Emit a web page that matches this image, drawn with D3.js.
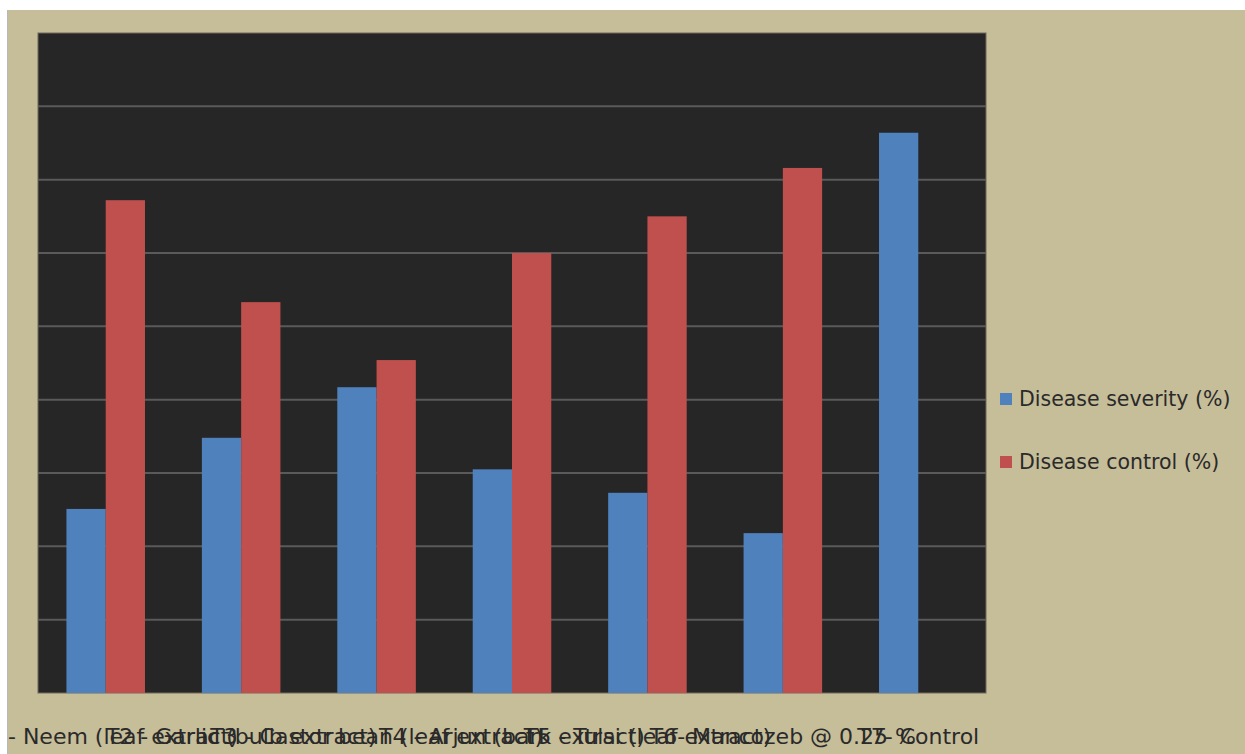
<!DOCTYPE html>
<html>
  <head>
    <script src="https://cdn.jsdelivr.net/npm/d3@7"></script>
    <style>
      body { margin: 0; background: #fff; }
      text { font-family: "DejaVu Sans", sans-serif; }
    </style>
  </head>
  <body>
    <script>
      // treatments and the two series (axis 0-90)
      var categories = [
        "T1 - Neem (leaf extract)",
        "T2 - Garlic (bulb extract)",
        "T3 - Castor bean (leaf extract)",
        "T4 - Arjun (bark extract)",
        "T5 - Tulsi (leaf extract)",
        "T6- Mancozeb @ 0.25 %",
        "T7- Control"
      ];
      var severity = [25.1, 34.8, 41.7, 30.5, 27.3, 21.8, 76.4];
      var control = [67.2, 53.3, 45.4, 60.0, 65.0, 71.6, 0];
      var seriesNames = ["Disease severity (%)", "Disease control (%)"];
      var colors = ["#4f81bd", "#c0504d"];
      var yTicks = d3.range(0, 91, 10);

      var W = 1245, H = 754;
      var plot = { left: 38, top: 33, right: 986, bottom: 693 };

      var svg = d3.select("body").append("svg")
        .attr("width", W)
        .attr("height", H);

      // page frame
      svg.append("rect").attr("x", 7).attr("y", 10).attr("width", 1).attr("height", H - 10).attr("fill", "#b8b8bc");
      svg.append("rect").attr("x", 8).attr("y", 10).attr("width", W - 8).attr("height", H - 10).attr("fill", "#c6bd99");

      svg.append("defs").append("clipPath").attr("id", "pageclip")
        .append("rect").attr("x", 8).attr("y", 10).attr("width", W - 8).attr("height", H - 10);

      // plot area
      svg.append("rect")
        .attr("x", plot.left).attr("y", plot.top)
        .attr("width", plot.right - plot.left).attr("height", plot.bottom - plot.top)
        .attr("fill", "#262626")
        .attr("stroke", "#6e6a5c").attr("stroke-width", 1);

      var x0 = d3.scaleBand()
        .domain(categories)
        .range([plot.left, plot.right])
        .paddingInner(0.42).paddingOuter(0.21);
      var x1 = d3.scaleBand()
        .domain([0, 1])
        .range([0, x0.bandwidth()]);
      var y = d3.scaleLinear()
        .domain([0, 90])
        .range([plot.bottom, plot.top]);

      // gridlines
      svg.append("g").selectAll("line")
        .data(yTicks.slice(1, -1))
        .enter().append("line")
        .attr("x1", plot.left).attr("x2", plot.right)
        .attr("y1", d => y(d)).attr("y2", d => y(d))
        .attr("stroke", "#5a5a5a").attr("stroke-width", 2);

      // bars
      var groups = svg.append("g").selectAll("g")
        .data(categories)
        .enter().append("g")
        .attr("transform", d => "translate(" + x0(d) + ",0)");

      groups.selectAll("rect")
        .data((d, i) => [severity[i], control[i]])
        .enter().append("rect")
        .attr("x", (d, j) => x1(j))
        .attr("y", d => y(d))
        .attr("width", x1.bandwidth())
        .attr("height", d => y(0) - y(d))
        .attr("fill", (d, j) => colors[j]);

      // x axis labels (they overlap like the original)
      var xAxis = d3.axisBottom(x0).tickSize(0).tickPadding(35);
      var gx = svg.append("g")
        .attr("clip-path", "url(#pageclip)")
        .append("g")
        .attr("transform", "translate(0," + plot.bottom + ")")
        .call(xAxis);
      gx.select(".domain").remove();
      gx.selectAll("text")
        .attr("font-size", 22)
        .attr("fill", "#2a2a2a")
        .style("font-family", "'DejaVu Sans', sans-serif");

      // legend
      var legend = svg.append("g").selectAll("g")
        .data(seriesNames)
        .enter().append("g")
        .attr("transform", (d, i) => "translate(1000," + (399 + i * 63) + ")");
      legend.append("rect")
        .attr("x", 0).attr("y", -6)
        .attr("width", 12).attr("height", 12)
        .attr("fill", (d, i) => colors[i]);
      legend.append("text")
        .attr("x", 19).attr("y", 7)
        .attr("font-size", 20.5)
        .attr("fill", "#2a2a2a")
        .text(d => d);
    </script>
  </body>
</html>
